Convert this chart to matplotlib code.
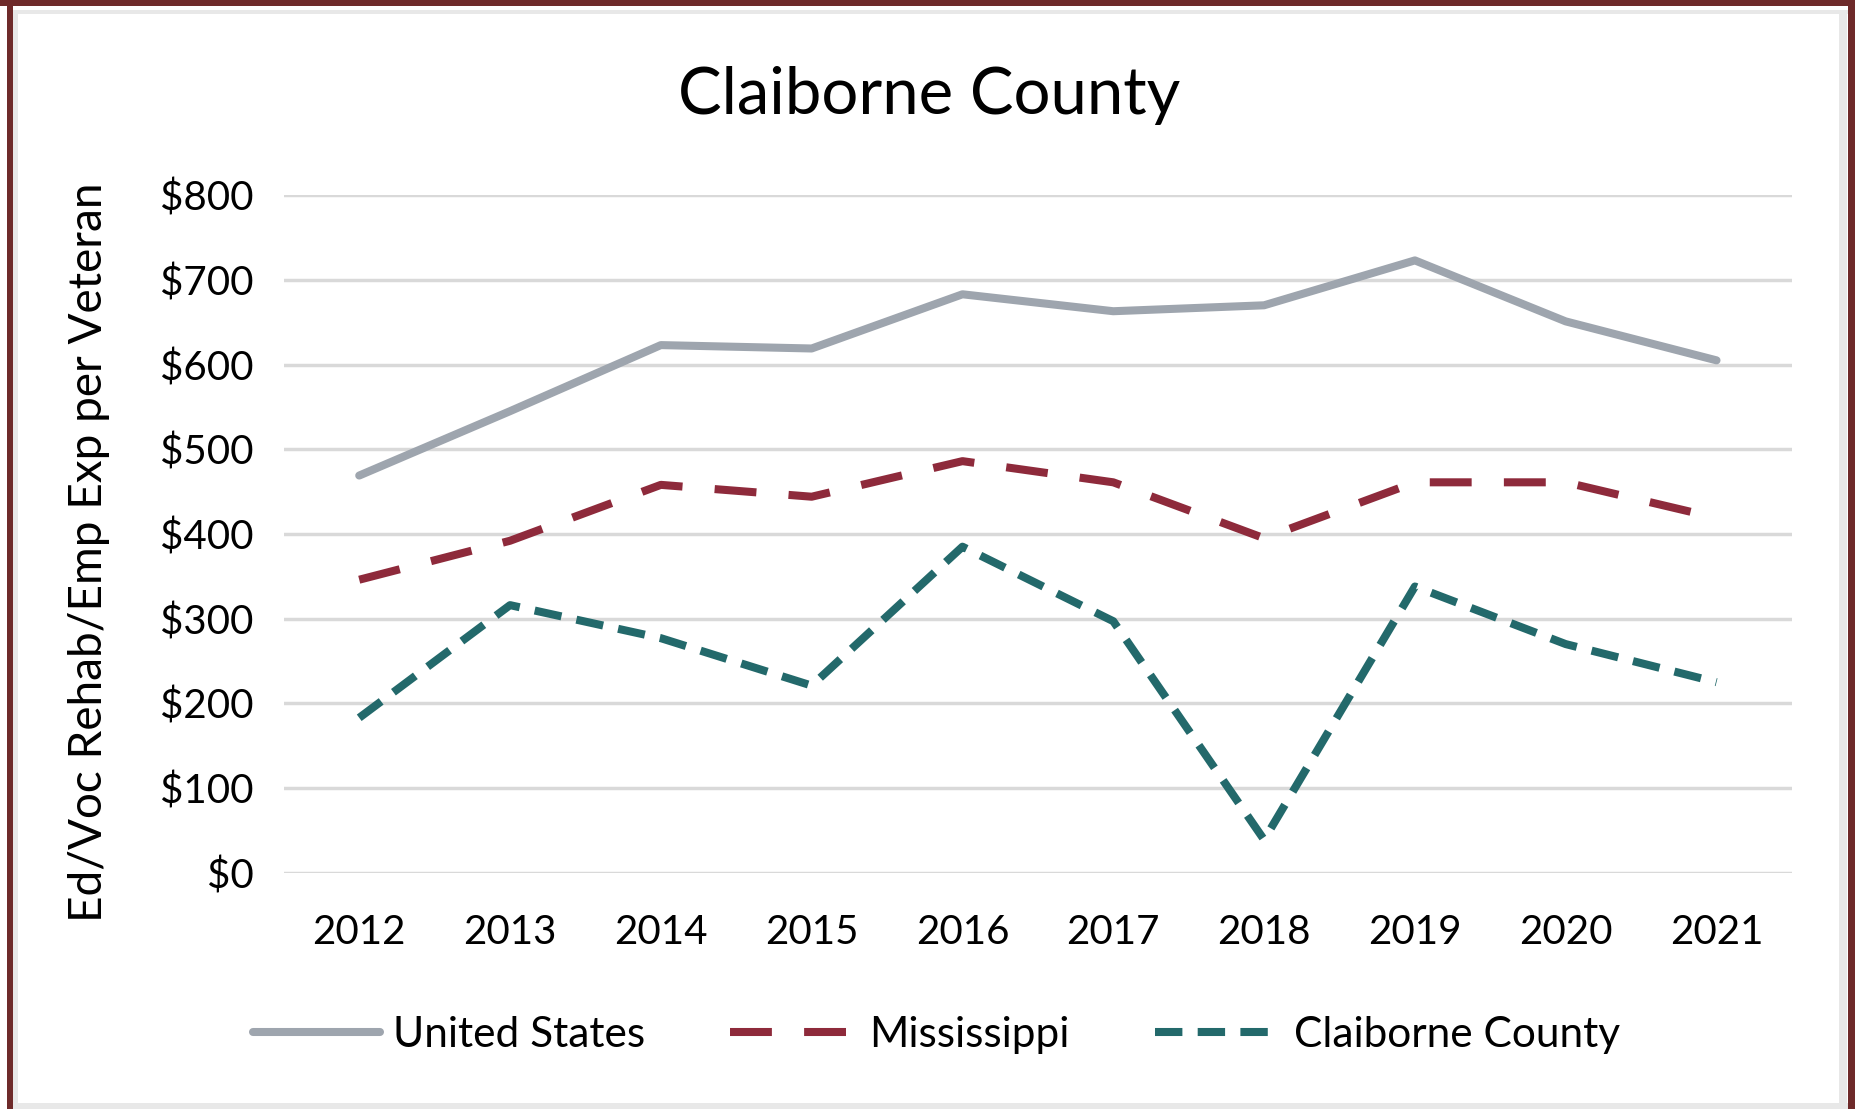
import matplotlib
matplotlib.use("Agg")
import matplotlib.pyplot as plt
from matplotlib.patches import Rectangle

# data
years = ["2012", "2013", "2014", "2015", "2016", "2017", "2018", "2019", "2020", "2021"]
united_states = [469, 545, 623, 619, 683, 663, 670, 723, 651, 605]
mississippi = [346, 392, 458, 444, 486, 461, 395, 461, 461, 419]
claiborne = [183, 316, 277, 221, 385, 297, 39, 338, 270, 225]
y_ticks = [0, 100, 200, 300, 400, 500, 600, 700, 800]

plt.rcParams['font.family'] = ['Lato', 'DejaVu Sans']

fig = plt.figure(figsize=(18.55, 11.09), dpi=100)
ax = fig.add_axes([0.153, 0.213, 0.813, 0.611])

x = range(len(years))
ax.plot(x, united_states, color='#9ea5ae', lw=5.8, solid_capstyle='round',
        label='United States')
ax.plot(x, mississippi, color='#8e2a3b', lw=5.8, dashes=(5.2, 4.0),
        dash_capstyle='butt', label='Mississippi')
ax.plot(x, claiborne, color='#23696b', lw=5.8, dashes=(3.4, 1.9),
        dash_capstyle='butt', label='Claiborne County')

ax.set_xlim(-0.5, len(years) - 0.5)
ax.set_ylim(0, 800)
ax.set_yticks(y_ticks)
ax.set_yticklabels([f"${v}" for v in y_ticks])
ax.set_xticks(list(x))
ax.set_xticklabels(years)
ax.grid(axis='y', color='#d9d9d9', lw=2.5)
ax.set_axisbelow(True)
for s in ax.spines.values():
    s.set_visible(False)
ax.tick_params(length=0, labelsize=29, colors='#000000')
ax.tick_params(axis='x', pad=30)
ax.tick_params(axis='y', pad=22)

ax.set_ylabel("Ed/Voc Rehab/Emp Exp per Veteran", fontsize=33)
ax.yaxis.set_label_coords(-0.115, 0.473)
fig.text(0.501, 0.914, "Claiborne County", ha='center', va='center', fontsize=47)

fig.legend(loc='center', bbox_to_anchor=(0.505, 0.067), ncol=3, frameon=False,
           fontsize=30.5, handlelength=3.0, columnspacing=2.0, handletextpad=0.3)

# frame around the picture
W, H = 1855, 1109
def band(x0, y0, w, h, c):
    fig.patches.append(Rectangle((x0 / W, 1 - (y0 + h) / H), w / W, h / H,
                                 transform=fig.transFigure, color=c, lw=0))
band(0, 0, W, 6, '#6e2a2a')
band(7, 0, 6, H, '#6e2a2a')
band(1848, 0, 7, H, '#6e2a2a')
band(13, 10, 1835, 4, '#e8e8e8')
band(13, 10, 5, H, '#e8e8e8')
band(1839, 10, 8, H, '#e8e8e8')
band(13, 1103, 1835, 6, '#e8e8e8')

fig.savefig("out.png", dpi=100)
